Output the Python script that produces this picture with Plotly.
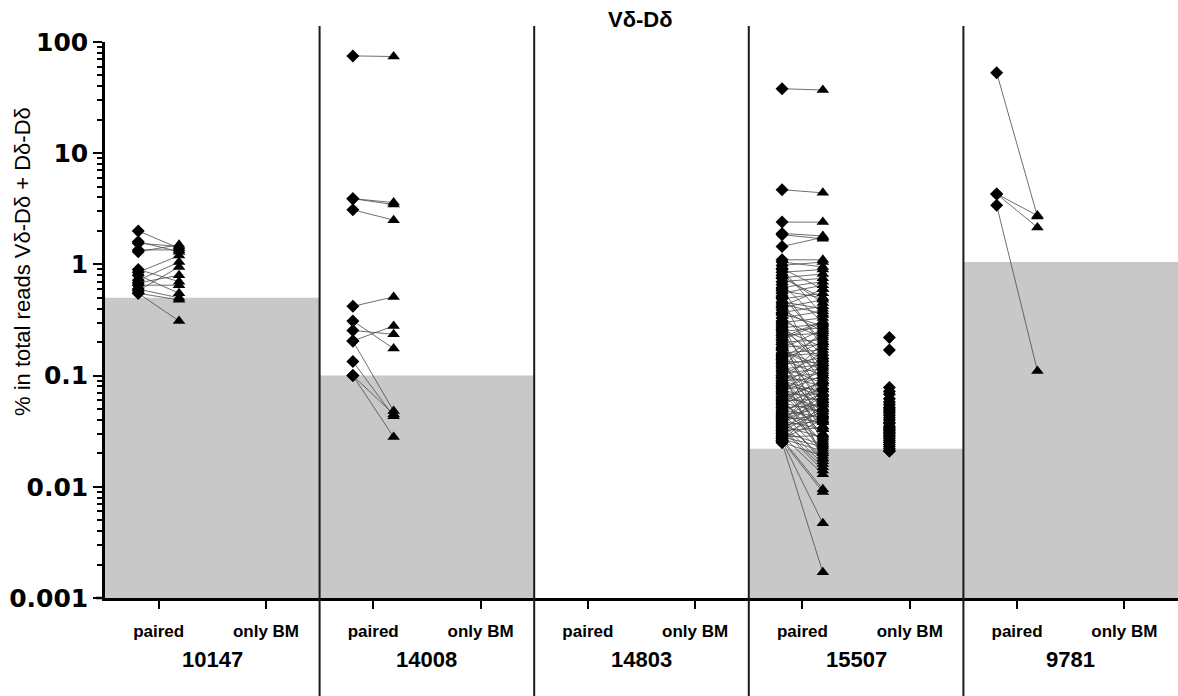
import plotly.graph_objects as go

# ---------------- data ----------------
patients = ["10147", "14008", "14803", "15507", "9781"]
categories = ["paired", "only BM"]
thresholds = [0.5, 0.1, None, 0.022, 1.05]

# paired: diamond (first sample) -> triangle (second sample)
d_10147 = [2.0, 1.6, 1.55, 1.35, 1.3, 0.9, 0.85, 0.8, 0.72, 0.68, 0.65, 0.6, 0.58, 0.55, 0.55]
t_10147 = [1.4, 1.3, 1.45, 1.35, 1.5, 0.7, 1.2, 0.55, 1.05, 0.8, 0.65, 0.5, 0.95, 0.48, 0.31]

d_14008 = [75, 3.9, 3.9, 3.1, 0.42, 0.31, 0.255, 0.205, 0.205, 0.134, 0.1, 0.1]
t_14008 = [74, 3.6, 3.45, 2.5, 0.51, 0.175, 0.235, 0.28, 0.048, 0.043, 0.045, 0.028]

d_14803 = []
t_14803 = []

d_15507 = [38, 4.7, 2.4, 1.9, 1.85, 1.45, 1.1, 1.05, 0.98, 0.92,
           0.85, 0.8, 0.76, 0.7, 0.66, 0.62, 0.58, 0.55, 0.52, 0.49,
           0.46, 0.44, 0.41, 0.39, 0.37, 0.35, 0.33, 0.31, 0.3, 0.28,
           0.27, 0.26, 0.25, 0.24, 0.23, 0.22, 0.21, 0.2, 0.19, 0.18,
           0.175, 0.17, 0.16, 0.155, 0.15, 0.145, 0.14, 0.135, 0.13, 0.125,
           0.12, 0.115, 0.11, 0.105, 0.1, 0.097, 0.094, 0.09, 0.087, 0.084,
           0.081, 0.078, 0.075, 0.072, 0.07, 0.068, 0.065, 0.063, 0.061, 0.059,
           0.057, 0.055, 0.053, 0.051, 0.049, 0.047, 0.046, 0.044, 0.043, 0.042,
           0.041, 0.04, 0.039, 0.038, 0.037, 0.036, 0.035, 0.034, 0.033, 0.032,
           0.031, 0.03, 0.029, 0.028, 0.027, 0.027, 0.026, 0.026, 0.025, 0.025,
           0.29, 0.26, 0.23, 0.21, 0.19, 0.17, 0.15, 0.14, 0.13, 0.12,
           0.11, 0.1, 0.095, 0.09, 0.085, 0.08, 0.076, 0.072, 0.068, 0.064,
           0.06, 0.056, 0.052, 0.048, 0.045, 0.042, 0.039, 0.036, 0.034, 0.032,
           0.03, 0.028, 0.027, 0.026, 0.6, 0.5, 0.42, 0.36, 0.9, 0.75]
t_15507 = [37, 4.4, 2.4, 1.8, 1.7, 1.75, 1.1, 0.95, 1.05, 0.6,
           0.9, 0.45, 0.82, 0.75, 0.3, 0.7, 0.5, 0.65, 0.2, 0.55,
           0.4, 0.36, 0.48, 0.25, 0.42, 0.15, 0.38, 0.22, 0.33, 0.12,
           0.29, 0.18, 0.27, 0.09, 0.24, 0.31, 0.14, 0.21, 0.07, 0.19,
           0.26, 0.11, 0.17, 0.06, 0.16, 0.23, 0.1, 0.13, 0.05, 0.145,
           0.085, 0.125, 0.045, 0.115, 0.08, 0.105, 0.04, 0.095, 0.065, 0.135,
           0.035, 0.075, 0.058, 0.1, 0.03, 0.068, 0.052, 0.088, 0.025, 0.062,
           0.047, 0.078, 0.022, 0.055, 0.042, 0.07, 0.02, 0.05, 0.038, 0.064,
           0.018, 0.044, 0.033, 0.057, 0.016, 0.039, 0.028, 0.05, 0.014, 0.034,
           0.024, 0.043, 0.013, 0.029, 0.021, 0.0095, 0.009, 0.0047, 0.0017, 0.019,
           0.06, 0.14, 0.03, 0.3, 0.05, 0.12, 0.024, 0.2, 0.04, 0.25,
           0.018, 0.16, 0.033, 0.07, 0.2, 0.027, 0.11, 0.045, 0.15, 0.02,
           0.09, 0.035, 0.13, 0.026, 0.08, 0.017, 0.06, 0.1, 0.015, 0.048,
           0.075, 0.023, 0.04, 0.055, 0.18, 0.09, 0.6, 0.28, 0.35, 0.5]

d_9781 = [53, 4.3, 4.3, 3.4]
t_9781 = [2.7, 2.75, 2.15, 0.11]

# only BM (diamonds only)
bm_15507 = [0.22, 0.17, 0.078, 0.072, 0.068, 0.062, 0.058, 0.055, 0.052, 0.05,
            0.048, 0.046, 0.044, 0.042, 0.04, 0.038, 0.037, 0.035, 0.034, 0.033,
            0.032, 0.031, 0.03, 0.029, 0.028, 0.027, 0.026, 0.025, 0.024, 0.023,
            0.022, 0.021, 0.021]

paired_d = [d_10147, d_14008, d_14803, d_15507, d_9781]
paired_t = [t_10147, t_14008, t_14803, t_15507, t_9781]
only_bm = [[], [], [], bm_15507, []]

# ---------------- layout constants ----------------
W, H = 1178, 696
ML, MR, MT, MB = 105, 0, 42, 98
PW = W - ML - MR
PH = H - MT - MB
OFF = 0.19  # horizontal offset of diamond/triangle around the category tick
FONT = "Liberation Sans, Arial, sans-serif"
WIDE = "DejaVu Sans, Liberation Sans, sans-serif"
GREY = "#c8c8c8"

fig = go.Figure()

# grey threshold areas
for i, thr in enumerate(thresholds):
    if thr is None:
        continue
    x0, x1 = 2 * i, 2 * i + 2
    fig.add_trace(go.Scatter(x=[x0, x1, x1, x0, x0], y=[0.001, 0.001, thr, thr, 0.001],
                             mode="lines", fill="toself", fillcolor=GREY,
                             line=dict(width=0), hoverinfo="skip", showlegend=False))

# connecting lines
lx, ly = [], []
for i in range(len(patients)):
    cx = 2 * i + 0.5
    for a, b in zip(paired_d[i], paired_t[i]):
        lx += [cx - OFF, cx + OFF, None]
        ly += [a, b, None]
fig.add_trace(go.Scatter(x=lx, y=ly, mode="lines", line=dict(color="#4a4a4a", width=0.8),
                         hoverinfo="skip", showlegend=False))

# diamonds
dx, dy = [], []
for i in range(len(patients)):
    cx = 2 * i + 0.5
    dx += [cx - OFF] * len(paired_d[i])
    dy += paired_d[i]
    cb = 2 * i + 1.5
    dx += [cb - OFF] * len(only_bm[i])
    dy += only_bm[i]
fig.add_trace(go.Scatter(x=dx, y=dy, mode="markers",
                         marker=dict(symbol="diamond", size=10, color="black", line=dict(width=0)),
                         showlegend=False))

# triangles
tx, ty = [], []
for i in range(len(patients)):
    cx = 2 * i + 0.5
    tx += [cx + OFF] * len(paired_t[i])
    ty += paired_t[i]
fig.add_trace(go.Scatter(x=tx, y=ty, mode="markers",
                         marker=dict(symbol="triangle-up", size=11, color="black", line=dict(width=0)),
                         showlegend=False))

# panel dividers
for i in range(1, len(patients)):
    fig.add_shape(type="line", xref="x", yref="paper", x0=2 * i, x1=2 * i,
                  y0=-MB / PH, y1=1 + (MT - 26) / PH, line=dict(color="#1a1a1a", width=2))
# small left extension of x axis line
fig.add_shape(type="line", xref="paper", yref="paper", x0=-9 / PW, x1=0, y0=0, y1=0,
              line=dict(color="black", width=2.5))

# x tick values / labels
tickvals = []
ticktext = []
for i in range(len(patients)):
    for j, c in enumerate(categories):
        tickvals.append(2 * i + 0.5 + j)
        ticktext.append(c)

# patient labels
for i, p in enumerate(patients):
    fig.add_annotation(x=2 * i + 1, y=-(659 - 598) / PH, xref="x", yref="paper",
                       text=f"<b>{p}</b>", showarrow=False,
                       font=dict(family=FONT, size=22, color="black"),
                       xanchor="center", yanchor="middle")

# title
fig.add_annotation(x=(640 - ML) / PW, y=1 + (MT - 19) / PH, xref="paper", yref="paper",
                   text="<b>Vδ-Dδ</b>", showarrow=False,
                   font=dict(family=FONT, size=22, color="black"),
                   xanchor="center", yanchor="middle")
# y axis title
fig.add_annotation(x=-(ML - 22) / PW, y=1 - (262 - MT) / PH, xref="paper", yref="paper",
                   text="% in total reads Vδ-Dδ + Dδ-Dδ", showarrow=False, textangle=-90,
                   font=dict(family=FONT, size=22, color="black"),
                   xanchor="center", yanchor="middle")

major = [0.001, 0.01, 0.1, 1, 10, 100]
major_txt = ["0.001", "0.01", "0.1", "1", "10", "100"]
minor_vals = [k * 10 ** e for e in range(-3, 2) for k in range(2, 10)]

fig.update_layout(
    width=W, height=H, autosize=False,
    margin=dict(l=ML, r=MR, t=MT, b=MB, pad=0),
    paper_bgcolor="white", plot_bgcolor="white",
    font=dict(family=FONT, color="black"),
    xaxis=dict(range=[0, 10], showgrid=False, zeroline=False,
               showline=True, linecolor="black", linewidth=2.5,
               tickmode="array", tickvals=tickvals, ticktext=ticktext,
               ticks="outside", ticklen=8, tickwidth=2, tickcolor="black",
               ticklabelstandoff=8,
               tickfont=dict(family=FONT, size=17, color="black", weight="bold")),
    yaxis=dict(type="log", range=[-3, 2], showgrid=False, zeroline=False,
               showline=True, linecolor="black", linewidth=2.5,
               tickmode="array", tickvals=major, ticktext=major_txt,
               ticks="outside", ticklen=9, tickwidth=2, tickcolor="black",
               tickfont=dict(family=WIDE, size=25, color="black", weight="bold"),
               minor=dict(tickmode="array", tickvals=minor_vals, ticks="outside",
                          ticklen=5, tickwidth=1.5, tickcolor="black", showgrid=False)),
)

fig.write_html("out.html")
